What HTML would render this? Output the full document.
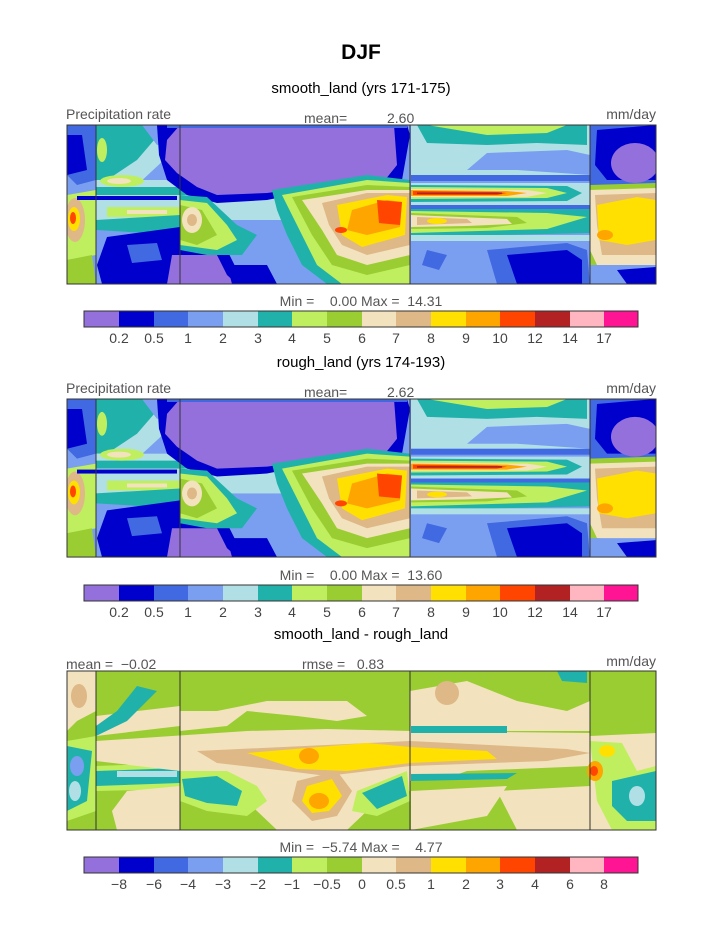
<!DOCTYPE html>
<html><head><meta charset="utf-8"><style>
body{margin:0;background:#fff;}
svg text{font-family:"Liberation Sans",sans-serif;}
</style></head><body>
<svg width="723" height="935" viewBox="0 0 723 935" xmlns="http://www.w3.org/2000/svg">
<defs>
<clipPath id="cp"><rect x="0" y="0" width="589" height="159"/></clipPath>
<g id="prc">
<g clip-path="url(#cp)">
<rect x="0" y="0" width="589" height="159" fill="#7B9FF0"/>
<polygon points="0,0 29,0 29,55 10,60 0,50" fill="#4169E1"/>
<polygon points="0,10 15,10 20,45 0,50" fill="#0000CD"/>
<polygon points="0,70 29,65 29,130 0,135" fill="#BFEF5F"/>
<ellipse cx="8" cy="95" rx="10" ry="22" fill="#DEB887"/>
<ellipse cx="7" cy="94" rx="6" ry="12" fill="#FFE000"/>
<ellipse cx="6" cy="93" rx="3" ry="6" fill="#FF4500"/>
<polygon points="0,135 25,130 29,159 0,159" fill="#9ACD32"/>
<polygon points="29,0 113,0 113,20 70,60 29,62" fill="#B0E0E6"/>
<polygon points="29,0 100,0 70,35 40,55 29,55" fill="#20B2AA"/>
<ellipse cx="35" cy="25" rx="5" ry="12" fill="#BFEF5F"/>
<polygon points="75,0 113,0 113,15 90,20" fill="#7B9FF0"/>
<rect x="29" y="55" width="314" height="40" fill="#B0E0E6"/>
<rect x="29" y="62" width="230" height="8" fill="#20B2AA"/>
<ellipse cx="55" cy="56" rx="22" ry="6" fill="#BFEF5F"/>
<ellipse cx="52" cy="56" rx="12" ry="3" fill="#F3E2BE"/>
<rect x="10" y="71" width="100" height="4" fill="#0000CD"/>
<rect x="40" y="82" width="80" height="10" fill="#BFEF5F"/>
<rect x="60" y="85" width="40" height="4" fill="#F3E2BE"/>
<polygon points="29,95 113,90 113,110 29,105" fill="#20B2AA"/>
<polygon points="40,112 113,102 113,159 35,159 30,140" fill="#0000CD"/>
<polygon points="60,120 90,118 95,135 65,138" fill="#4169E1"/>
<polygon points="90,0 340,0 343,10 335,55 250,65 200,75 150,78 120,70 100,55 92,30" fill="#0000CD"/>
<polygon points="113,0 327,0 330,40 318,55 260,60 200,68 150,70 130,62 110,48 98,35 100,15" fill="#9370DB"/>
<rect x="100" y="0" width="240" height="3" fill="#4169E1"/>
<polygon points="95,125 160,125 170,145 185,159 95,159" fill="#0000CD"/>
<polygon points="105,130 150,130 160,150 170,159 100,159" fill="#9370DB"/>
<polygon points="160,140 200,140 210,159 165,159" fill="#0000CD"/>
<polygon points="113,70 140,72 170,100 190,110 175,130 140,130 113,125" fill="#20B2AA"/>
<polygon points="113,75 140,78 160,100 170,115 150,125 113,120" fill="#BFEF5F"/>
<polygon points="113,80 135,85 150,110 130,120 113,115" fill="#9ACD32"/>
<ellipse cx="125" cy="95" rx="10" ry="13" fill="#F3E2BE"/>
<ellipse cx="125" cy="95" rx="5" ry="6" fill="#DEB887"/>
<polygon points="205,65 300,50 343,55 343,159 260,159 235,140 220,110 210,85" fill="#20B2AA"/>
<polygon points="215,70 300,55 343,58 343,159 275,159 250,140 235,110" fill="#BFEF5F"/>
<polygon points="225,72 300,60 343,62 343,140 300,150 265,140 245,110" fill="#9ACD32"/>
<polygon points="235,75 300,65 343,65 343,130 300,140 270,130 255,105" fill="#F3E2BE"/>
<polygon points="255,78 300,68 343,68 343,120 300,130 275,120 262,100" fill="#DEB887"/>
<polygon points="270,80 320,70 340,72 338,110 295,122 275,110" fill="#FFE000"/>
<polygon points="285,85 320,75 335,77 333,102 300,110 280,105" fill="#FFA500"/>
<polygon points="310,75 335,77 333,100 312,98" fill="#FF4500"/>
<ellipse cx="274" cy="105" rx="6" ry="3" fill="#FF4500"/>
<rect x="344" y="0" width="179" height="55" fill="#B0E0E6"/>
<polygon points="350,0 520,0 520,20 470,18 420,20 360,18" fill="#20B2AA"/>
<polygon points="360,0 500,0 480,8 420,10" fill="#BFEF5F"/>
<polygon points="420,28 500,25 523,30 523,50 450,45 400,45" fill="#7B9FF0"/>
<rect x="344" y="50" width="179" height="6" fill="#4169E1"/>
<polygon points="344,58 523,58 523,82 344,82" fill="#B0E0E6"/>
<polygon points="344,60 500,61 515,68 500,76 344,77" fill="#20B2AA"/>
<polygon points="344,62 480,63 500,68 480,73 344,74" fill="#BFEF5F"/>
<polygon points="344,64 460,65 480,68 460,72 344,72" fill="#F3E2BE"/>
<polygon points="344,65 440,66 460,68 440,71 344,71" fill="#FFA500"/>
<polygon points="346,66 430,67 440,68 430,70 346,70" fill="#FF4500"/>
<rect x="350" y="67.5" width="85" height="1.6" fill="#B22222"/>
<rect x="344" y="80" width="179" height="4" fill="#4169E1"/>
<polygon points="344,84 523,84 523,108 344,112" fill="#20B2AA"/>
<polygon points="344,86 480,88 520,92 480,104 344,108" fill="#BFEF5F"/>
<polygon points="344,88 450,92 460,98 420,103 344,104" fill="#9ACD32"/>
<polygon points="344,90 440,94 445,99 400,101 344,102" fill="#F3E2BE"/>
<polygon points="350,92 400,94 405,98 350,100" fill="#DEB887"/>
<ellipse cx="370" cy="96" rx="10" ry="3" fill="#FFE000"/>
<rect x="344" y="110" width="179" height="6" fill="#B0E0E6"/>
<polygon points="420,125 500,118 520,125 523,159 430,159" fill="#4169E1"/>
<polygon points="440,130 500,125 515,135 515,159 450,159" fill="#0000CD"/>
<polygon points="360,125 380,130 372,145 355,140" fill="#4169E1"/>
<rect x="523" y="0" width="66" height="60" fill="#4169E1"/>
<polygon points="530,5 589,0 589,55 540,55 528,40" fill="#0000CD"/>
<ellipse cx="568" cy="38" rx="24" ry="20" fill="#9370DB"/>
<polygon points="523,60 589,58 589,159 523,159" fill="#9ACD32"/>
<polygon points="523,65 589,63 589,145 530,140 523,125" fill="#F3E2BE"/>
<polygon points="528,70 589,68 589,130 535,130 530,100" fill="#DEB887"/>
<polygon points="530,80 570,72 589,75 589,115 560,120 532,115" fill="#FFE000"/>
<ellipse cx="538" cy="110" rx="8" ry="5" fill="#FFA500"/>
<polygon points="523,140 589,140 589,159 523,159" fill="#7B9FF0"/>
<polygon points="550,145 589,142 589,159 560,159" fill="#0000CD"/>
</g>
<g stroke="#333" stroke-width="1"><line x1="29" y1="0" x2="29" y2="159"/><line x1="113" y1="0" x2="113" y2="159"/><line x1="343" y1="0" x2="343" y2="159"/><line x1="523" y1="0" x2="523" y2="159"/></g>
<rect x="0" y="0" width="589" height="159" fill="none" stroke="#333" stroke-width="1"/>
</g>
<g id="cb1">
<rect x="0" y="0" width="35" height="16" fill="#9370DB"/>
<rect x="35" y="0" width="35" height="16" fill="#0000CD"/>
<rect x="70" y="0" width="34" height="16" fill="#4169E1"/>
<rect x="104" y="0" width="35" height="16" fill="#7B9FF0"/>
<rect x="139" y="0" width="35" height="16" fill="#B0E0E6"/>
<rect x="174" y="0" width="34" height="16" fill="#20B2AA"/>
<rect x="208" y="0" width="35" height="16" fill="#BFEF5F"/>
<rect x="243" y="0" width="35" height="16" fill="#9ACD32"/>
<rect x="278" y="0" width="34" height="16" fill="#F3E2BE"/>
<rect x="312" y="0" width="35" height="16" fill="#DEB887"/>
<rect x="347" y="0" width="35" height="16" fill="#FFE000"/>
<rect x="382" y="0" width="34" height="16" fill="#FFA500"/>
<rect x="416" y="0" width="35" height="16" fill="#FF4500"/>
<rect x="451" y="0" width="35" height="16" fill="#B22222"/>
<rect x="486" y="0" width="34" height="16" fill="#FFB6C1"/>
<rect x="520" y="0" width="34" height="16" fill="#FF1493"/>
<rect x="0" y="0" width="554" height="16" fill="none" stroke="#333" stroke-width="1"/>
</g>
</defs>

<text x="361" y="59" font-size="21" font-weight="bold" text-anchor="middle" fill="#000">DJF</text>
<text x="361" y="93" font-size="15" text-anchor="middle" fill="#000">smooth_land (yrs 171-175)</text>
<g font-size="14" fill="#555">
<text x="66" y="119">Precipitation rate</text>
<text x="304" y="123">mean=</text><text x="387" y="123">2.60</text>
<text x="656" y="119" text-anchor="end">mm/day</text>
</g>
<g transform="translate(67,125)"><use href="#prc"/></g>
<text x="361" y="306" font-size="14" text-anchor="middle" fill="#555">Min =&#160;&#160;&#160;&#160;0.00 Max =&#160;&#160;14.31</text>
<g transform="translate(84,311)"><use href="#cb1"/></g>
<g font-size="14" fill="#444" text-anchor="middle">
<text x="119" y="343">0.2</text><text x="154" y="343">0.5</text><text x="188" y="343">1</text><text x="223" y="343">2</text><text x="258" y="343">3</text><text x="292" y="343">4</text><text x="327" y="343">5</text><text x="362" y="343">6</text><text x="396" y="343">7</text><text x="431" y="343">8</text><text x="466" y="343">9</text><text x="500" y="343">10</text><text x="535" y="343">12</text><text x="570" y="343">14</text><text x="604" y="343">17</text>
</g>

<text x="361" y="367" font-size="15" text-anchor="middle" fill="#000">rough_land (yrs 174-193)</text>
<g font-size="14" fill="#555">
<text x="66" y="393">Precipitation rate</text>
<text x="304" y="397">mean=</text><text x="387" y="397">2.62</text>
<text x="656" y="393" text-anchor="end">mm/day</text>
</g>
<g transform="translate(67,399) scale(1,0.994)"><use href="#prc"/></g>
<text x="361" y="580" font-size="14" text-anchor="middle" fill="#555">Min =&#160;&#160;&#160;&#160;0.00 Max =&#160;&#160;13.60</text>
<g transform="translate(84,585)"><use href="#cb1"/></g>
<g font-size="14" fill="#444" text-anchor="middle">
<text x="119" y="617">0.2</text><text x="154" y="617">0.5</text><text x="188" y="617">1</text><text x="223" y="617">2</text><text x="258" y="617">3</text><text x="292" y="617">4</text><text x="327" y="617">5</text><text x="362" y="617">6</text><text x="396" y="617">7</text><text x="431" y="617">8</text><text x="466" y="617">9</text><text x="500" y="617">10</text><text x="535" y="617">12</text><text x="570" y="617">14</text><text x="604" y="617">17</text>
</g>

<text x="361" y="639" font-size="15" text-anchor="middle" fill="#000">smooth_land - rough_land</text>
<g font-size="14" fill="#555">
<text x="66" y="669">mean =&#160;&#160;−0.02</text>
<text x="302" y="669">rmse =&#160;&#160;&#160;0.83</text>
<text x="656" y="666" text-anchor="end">mm/day</text>
</g>
<g transform="translate(67,671)">
<g clip-path="url(#cp)">
<rect x="0" y="0" width="589" height="159" fill="#9ACD32"/>
<polygon points="0,0 29,0 29,40 10,50 0,60" fill="#F3E2BE"/>
<ellipse cx="12" cy="25" rx="8" ry="12" fill="#DEB887"/>
<polygon points="29,45 113,35 113,55 29,65" fill="#F3E2BE"/>
<polygon points="29,55 50,40 70,15 90,20 60,50 29,65" fill="#20B2AA"/>
<polygon points="29,95 113,92 113,118 29,120" fill="#BFEF5F"/>
<polygon points="29,100 113,97 113,112 29,115" fill="#20B2AA"/>
<rect x="50" y="100" width="60" height="6" fill="#B0E0E6"/>
<polygon points="0,70 29,65 29,140 0,150" fill="#BFEF5F"/>
<polygon points="0,75 25,80 20,130 0,140" fill="#20B2AA"/>
<ellipse cx="10" cy="95" rx="7" ry="10" fill="#7B9FF0"/>
<ellipse cx="8" cy="120" rx="6" ry="10" fill="#B0E0E6"/>
<polygon points="60,120 113,115 113,159 50,159 45,140" fill="#F3E2BE"/>
<polygon points="29,70 180,60 260,58 343,60 523,62 523,95 400,100 343,120 300,140 280,159 210,159 190,140 160,110 113,100 29,90" fill="#F3E2BE"/>
<polygon points="113,60 160,55 180,40 230,45 270,50 300,45 280,30 200,30 150,40 113,40" fill="#F3E2BE"/>
<polygon points="343,20 400,10 450,30 500,40 523,30 523,60 343,60" fill="#F3E2BE"/>
<ellipse cx="380" cy="22" rx="12" ry="12" fill="#DEB887"/>
<polygon points="343,110 523,100 523,159 343,159" fill="#9ACD32"/>
<polygon points="344,120 440,115 420,145 344,159" fill="#F3E2BE"/>
<polygon points="430,120 523,115 523,159 450,159" fill="#F3E2BE"/>
<polygon points="130,80 343,70 500,78 523,82 480,90 343,95 260,105 220,100 150,92" fill="#DEB887"/>
<polygon points="180,82 300,72 343,76 420,80 430,88 343,92 280,100 230,98" fill="#FFE000"/>
<ellipse cx="242" cy="85" rx="10" ry="8" fill="#FFA500"/>
<polygon points="230,110 270,100 285,120 270,145 245,150 225,130" fill="#DEB887"/>
<polygon points="240,115 265,108 275,125 262,140 245,142 235,130" fill="#FFE000"/>
<ellipse cx="252" cy="130" rx="10" ry="8" fill="#FFA500"/>
<polygon points="290,120 340,100 343,130 310,145 285,140" fill="#BFEF5F"/>
<polygon points="295,122 335,105 340,125 310,138" fill="#20B2AA"/>
<polygon points="113,100 160,100 190,115 200,130 180,145 140,140 113,130" fill="#BFEF5F"/>
<polygon points="115,108 150,105 175,120 170,135 140,132 118,125" fill="#20B2AA"/>
<polygon points="344,55 440,55 440,62 344,62" fill="#20B2AA"/>
<polygon points="344,103 450,102 440,108 344,110" fill="#20B2AA"/>
<polygon points="523,65 589,62 589,159 523,159" fill="#F3E2BE"/>
<polygon points="523,70 555,72 570,100 589,95 589,159 545,159 530,130" fill="#BFEF5F"/>
<polygon points="545,110 589,100 589,150 560,150 545,135" fill="#20B2AA"/>
<ellipse cx="570" cy="125" rx="8" ry="10" fill="#B0E0E6"/>
<ellipse cx="528" cy="100" rx="8" ry="10" fill="#FFA500"/>
<ellipse cx="527" cy="100" rx="4" ry="5" fill="#FF4500"/>
<ellipse cx="540" cy="80" rx="8" ry="6" fill="#FFE000"/>
<polygon points="490,0 520,0 520,12 495,10" fill="#20B2AA"/>
</g>
<g stroke="#333" stroke-width="1"><line x1="29" y1="0" x2="29" y2="159"/><line x1="113" y1="0" x2="113" y2="159"/><line x1="343" y1="0" x2="343" y2="159"/><line x1="523" y1="0" x2="523" y2="159"/></g>
<rect x="0" y="0" width="589" height="159" fill="none" stroke="#333" stroke-width="1"/>
</g>
<text x="361" y="852" font-size="14" text-anchor="middle" fill="#555">Min =&#160;&#160;−5.74 Max =&#160;&#160;&#160;&#160;4.77</text>
<g transform="translate(84,857)"><use href="#cb1"/></g>
<g font-size="14" fill="#444" text-anchor="middle">
<text x="119" y="889">−8</text><text x="154" y="889">−6</text><text x="188" y="889">−4</text><text x="223" y="889">−3</text><text x="258" y="889">−2</text><text x="292" y="889">−1</text><text x="327" y="889">−0.5</text><text x="362" y="889">0</text><text x="396" y="889">0.5</text><text x="431" y="889">1</text><text x="466" y="889">2</text><text x="500" y="889">3</text><text x="535" y="889">4</text><text x="570" y="889">6</text><text x="604" y="889">8</text>
</g>
</svg>
</body></html>
